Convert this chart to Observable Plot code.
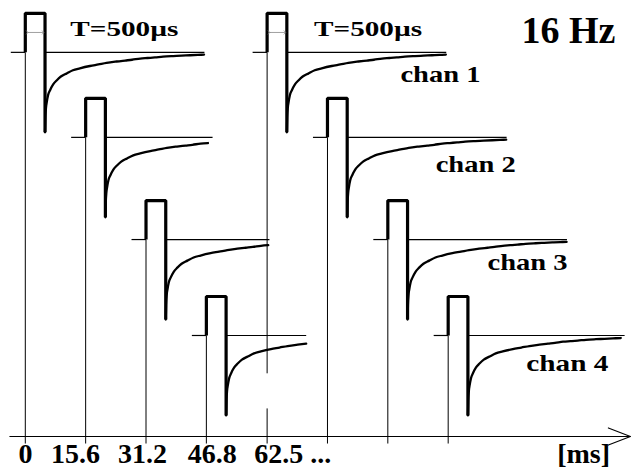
<!DOCTYPE html>
<html><head><meta charset="utf-8">
<script src="https://cdn.jsdelivr.net/npm/d3@7"></script>
<script src="https://cdn.jsdelivr.net/npm/@observablehq/plot@0.6"></script>
<style>html,body{margin:0;padding:0;background:#fff}
svg text{font-family:"Liberation Serif","Times New Roman",Times,serif !important;}</style>
</head><body><div id="chart"></div>
<script>
// ---- data ----
const channels = ["chan 1", "chan 2", "chan 3", "chan 4"];
const cycleOnsets = [0, 62.5];                 // ms
const channelDelays = [0, 15.6, 31.2, 46.8];   // ms
const channelLevels = [9.85, 7.67, 5.05, 2.59]; // baseline of each channel trace (rel. units above axis)
const pulseAmplitude = 1.0;                    // rel. units
const pulseWidth = 5.1;                        // drawn width (ms units)
const spikeDepth = -2.05;                      // rel. units
const leadIn = 3.75;                           // baseline drawn before the pulse (ms)
const traceEnds = [[46.3, 32.8, 31.9, 25.8], [46.3, 46.3, 46.3, 45.6]]; // ms after onset
const decayT = [0, 0.1, 0.26, 0.44, 0.78, 1.3, 2.1, 3.0, 4.1, 5.6, 7.2, 9.0, 11.6, 13.8, 15.9, 18.5, 20.7, 22.5, 24.6, 26.5, 28.4, 30.5, 33.1, 35.3, 37.5, 39.5, 41.1];
const decayV = [-2.05, -1.67, -1.41, -1.28, -1.10, -0.97, -0.82, -0.72, -0.62, -0.54, -0.46, -0.41, -0.35, -0.31, -0.27, -0.235, -0.21, -0.19, -0.16, -0.145, -0.13, -0.11, -0.095, -0.085, -0.074, -0.065, -0.059];
const tickLabels = ["0", "15.6", "31.2", "46.8", "62.5 ..."];
const unitLabel = "[ms]";
const pulseLabel = "T=500µs";
const freqLabel = "16 Hz";

// ---- layout / style (not data) ----
const L = {
  tickBelow: -0.18, axisStart: -4.1, axisEnd: 156.4, chevronLen: 5.7, chevronHalf: 0.22,
  gap62: [0.72, 1.62],
  tickLabelX: [0.05, 13.0, 30.3, 48.3, 59.2], labelY: -0.69,
  unitX: 144.3,
  pulseLabelX: [25.6, 88.6], pulseLabelY: [10.26, 10.28],
  freqX: 140.4, freqY: 10.08,
  chanX: [107.3, 116.4, 129.8, 140.1], chanY: [9.08, 6.79, 4.28, 1.69],
  arrowY: 0.51
};
const font = "Liberation Serif, Times New Roman, Times, serif";

// ---- build tables ----
const pulses = [];
cycleOnsets.forEach((c0, c) => channelDelays.forEach((d, k) => {
  pulses.push({id: `${c}-${k}`, cycle: c, chan: k, onset: c0 + d, level: channelLevels[k], end: traceEnds[c][k]});
}));
const pulsePath = pulses.flatMap(p => [
  {id: p.id, x: p.onset, y: p.level},
  {id: p.id, x: p.onset, y: p.level + pulseAmplitude},
  {id: p.id, x: p.onset + pulseWidth, y: p.level + pulseAmplitude},
  {id: p.id, x: p.onset + pulseWidth, y: p.level + spikeDepth}
]);
const decayPath = pulses.flatMap(p => decayT
  .map((t, i) => ({id: p.id, x: p.onset + pulseWidth + t, y: p.level + decayV[i]}))
  .filter(d => d.x <= p.onset + p.end + 0.01));
const baselines = pulses.flatMap(p => [
  {x1: p.onset - leadIn, x2: p.onset, y: p.level},
  {x1: p.onset + pulseWidth, x2: p.onset + p.end, y: p.level}
]);
const verticals = pulses.flatMap(p => (p.cycle === 1 && p.chan === 0)
  ? [{x: p.onset, y1: L.tickBelow, y2: L.gap62[0]}, {x: p.onset, y1: L.gap62[1], y2: p.level}]
  : [{x: p.onset, y1: L.tickBelow, y2: p.level}]);
const arrows = pulses.filter(p => p.chan === 0).map(p => ({x1: p.onset + 0.5, x2: p.onset + pulseWidth - 0.5, y: p.level + L.arrowY}));
const chevron = [
  {x: L.axisEnd - L.chevronLen, y: L.chevronHalf}, {x: L.axisEnd, y: 0}, {x: L.axisEnd - L.chevronLen, y: -L.chevronHalf}
];
const tickTexts = tickLabels.map((t, i) => ({text: t, x: L.tickLabelX[i]}));
const lastTick = tickTexts.length - 1;
const chanTexts = channels.map((t, i) => ({text: t, x: L.chanX[i], y: L.chanY[i]}));
const pulseTexts = cycleOnsets.map((c, i) => ({text: pulseLabel, x: L.pulseLabelX[i], y: L.pulseLabelY[i]}));

const txt = {lineAnchor: "bottom", fontWeight: "bold", fill: "#000", fontFamily: font};
const plot = Plot.plot({
  width: 633, height: 472, margin: 0,
  x: {type: "linear", domain: [0, 100], range: [24.8, 411.7], axis: null},
  y: {type: "linear", domain: [0, 10], range: [436, 46], axis: null},
  style: {background: "#fff", fontFamily: font},
  marks: [
    Plot.link(verticals, {x1: "x", x2: "x", y1: "y1", y2: "y2", stroke: "#000", strokeWidth: 1}),
    Plot.link(baselines, {x1: "x1", x2: "x2", y1: "y", y2: "y", stroke: "#000", strokeWidth: 1.2}),
    Plot.link([{x1: L.axisStart, x2: L.axisEnd}], {x1: "x1", x2: "x2", y1: 0, y2: 0, stroke: "#000", strokeWidth: 1.1}),
    Plot.line(chevron, {x: "x", y: "y", stroke: "#000", strokeWidth: 1.1}),
    Plot.line(decayPath, {x: "x", y: "y", z: "id", stroke: "#000", strokeWidth: 2.3, curve: "monotone-x"}),
    Plot.line(pulsePath, {x: "x", y: "y", z: "id", stroke: "#000", strokeWidth: 3.2, strokeLinejoin: "miter", strokeLinecap: "butt"}),
    Plot.link(arrows, {x1: "x1", x2: "x2", y1: "y", y2: "y", stroke: "#888", strokeWidth: 0.8, marker: "arrow"}),
    Plot.text(tickTexts.slice(0, lastTick), {...txt, x: "x", y: L.labelY, text: "text", textAnchor: "middle", fontSize: 28}),
    Plot.text(tickTexts.slice(lastTick), {...txt, x: "x", y: L.labelY, text: "text", textAnchor: "start", fontSize: 28}),
    Plot.text([unitLabel], {...txt, x: L.unitX, y: L.labelY, text: d => d, fontSize: 28}),
    Plot.text(chanTexts, {...txt, x: "x", y: "y", text: "text", fontSize: 23}),
    Plot.text(pulseTexts, {...txt, x: "x", y: "y", text: "text", fontSize: 22}),
    Plot.text([freqLabel], {...txt, x: L.freqX, y: L.freqY, text: d => d, fontSize: 38})
  ]
});
const widths = {"T=500µs": 108, "chan 1": 80, "chan 2": 80, "chan 3": 80, "chan 4": 82};
d3.select(plot).selectAll("text").each(function() {
  const w = widths[this.textContent];
  if (w) { this.setAttribute("textLength", w); this.setAttribute("lengthAdjust", "spacingAndGlyphs"); }
});
document.getElementById("chart").appendChild(plot);
</script>
</body></html>
